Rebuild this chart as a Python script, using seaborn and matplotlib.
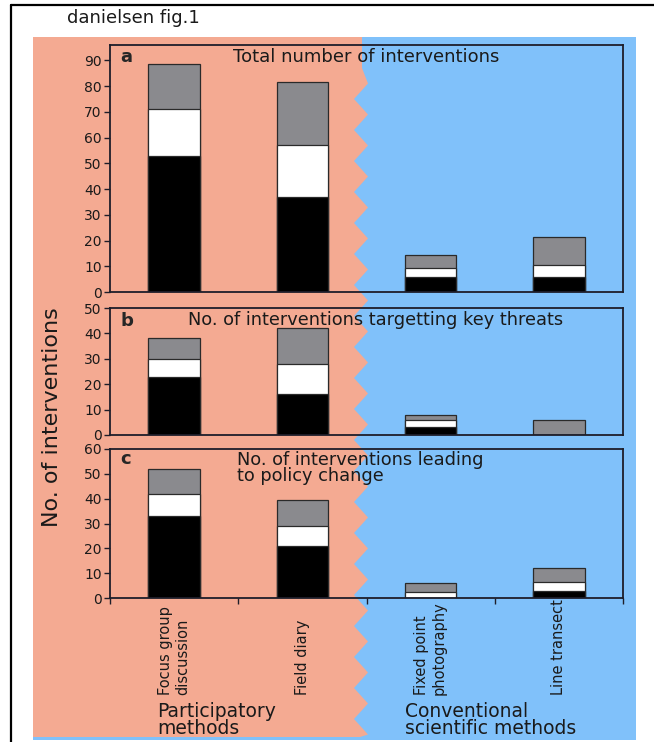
import matplotlib
matplotlib.use("Agg")
import matplotlib.pyplot as plt
import matplotlib.transforms as mtransforms
from matplotlib.patches import Rectangle, Polygon
from matplotlib.lines import Line2D
import seaborn as sns
import pandas as pd
import numpy as np

# ---------------- data ----------------
methods = ["Focus group\ndiscussion", "Field diary", "Fixed point\nphotography", "Line transect"]
groups = ["Participatory\nmethods", "Conventional\nscientific methods"]

panel_letters = ["a", "b", "c"]
panel_titles = ["Total number of interventions",
                "No. of interventions targetting key threats",
                "No. of interventions leading\nto policy change"]

# stacked segments (bottom black, middle white, top grey)
a_black = [53, 37, 6, 6]
a_white = [18, 20, 3.5, 4.5]
a_grey = [17.5, 24.5, 5, 11]

b_black = [23, 16, 3, 0]
b_white = [7, 12, 3, 0]
b_grey = [8, 14, 2, 6]

c_black = [33, 21, 0, 3]
c_white = [9, 8, 2.5, 3.5]
c_grey = [10, 10.5, 3.5, 5.5]

y_limits = [96, 50, 60]
y_ticks = [list(range(0, 91, 10)), list(range(0, 51, 10)), list(range(0, 61, 10))]

# ---------------- style ----------------
sns.set_theme(style="white")
plt.rcParams["font.family"] = ["DejaVu Sans"]

W, H = 654, 742
fig = plt.figure(figsize=(W / 100, H / 100), dpi=100)

def fx(x):
    return x / W

def fy(y):
    return 1 - y / H

SALMON = "#F4AA92"
BLUE = "#80C1FA"
GREY = "#8A8A8E"
EDGE = "#2a2a2a"
SPINE = "#1e1e2a"
TXT = "#1a1a1a"

# background regions
fig.patches.append(Rectangle((fx(33), fy(740)), fx(636) - fx(33), fy(37) - fy(740),
                             transform=fig.transFigure, facecolor=BLUE, edgecolor="none", zorder=-2))
pts = [(33, 37), (362, 37), (362, 68)]
y = 68
left = True
while y < 722:
    y += 15.5
    pts.append((368 if left else 354, y))
    left = not left
pts += [(360, 737), (33, 737)]
fig.patches.append(Polygon([(fx(px), fy(py)) for px, py in pts], closed=True,
                           transform=fig.transFigure, facecolor=SALMON, edgecolor="none", zorder=-1))

# outer frame lines
fig.add_artist(Line2D([fx(11), fx(11)], [fy(5), fy(742)], color="black", lw=1.6, transform=fig.transFigure))
fig.add_artist(Line2D([fx(11), fx(654)], [fy(5), fy(5)], color="black", lw=1.6, transform=fig.transFigure))

fig.text(fx(67), fy(18), "danielsen fig.1", fontsize=13, ha="left", va="center", color=TXT)

# axes positions (pixels: left, right, top, bottom)
boxes = [(110, 623, 45, 292), (110, 623, 308, 435), (110, 623, 449, 598)]
data = [(a_black, a_white, a_grey), (b_black, b_white, b_grey), (c_black, c_white, c_grey)]

axes = []
for i, ((l, r, t, b), (blk, wht, gry)) in enumerate(zip(boxes, data)):
    ax = fig.add_axes([fx(l), fy(b), fx(r) - fx(l), fy(t) - fy(b)])
    ax.set_facecolor("none")
    df = pd.DataFrame({"method": methods,
                       "black": blk,
                       "white": np.add(blk, wht),
                       "grey": np.add(np.add(blk, wht), gry)})
    for col, colr in [("grey", GREY), ("white", "white"), ("black", "black")]:
        sns.barplot(data=df, x="method", y=col, order=methods, color=colr, saturation=1,
                    width=0.4, edgecolor=EDGE, linewidth=0.9, ax=ax)
    ax.set_xlim(-0.5, 3.5)
    ax.set_ylim(0, y_limits[i])
    ax.set_yticks(y_ticks[i])
    ax.set_xlabel("")
    ax.set_ylabel("")
    for s in ax.spines.values():
        s.set_color(SPINE)
        s.set_linewidth(1.3)
    ax.tick_params(axis="y", direction="out", length=4, width=1, color=SPINE,
                   labelsize=10, pad=2, labelcolor=TXT, left=True)
    ax.set_xticks(range(4))
    ax.set_xticklabels([])
    ax.tick_params(axis="x", length=0)
    axes.append(ax)

ax_a, ax_b, ax_c = axes
ax_c.set_xticks(np.arange(-0.5, 4, 1), minor=True)
ax_c.tick_params(axis="x", which="minor", direction="out", length=4, width=1, color=SPINE, bottom=True)

# panel letters and titles
ax_a.text(0.02, 0.95, panel_letters[0], transform=ax_a.transAxes, fontsize=13, fontweight="bold", va="center", ha="left")
ax_a.text(0.5, 0.95, panel_titles[0], transform=ax_a.transAxes, fontsize=13, va="center", ha="center", color=TXT)
ax_b.text(0.02, 0.90, panel_letters[1], transform=ax_b.transAxes, fontsize=13, fontweight="bold", va="center", ha="left")
ax_b.text(0.518, 0.905, panel_titles[1], transform=ax_b.transAxes, fontsize=12.8, va="center", ha="center", color=TXT)
ax_c.text(0.02, 0.93, panel_letters[2], transform=ax_c.transAxes, fontsize=13, fontweight="bold", va="center", ha="left")
ax_c.text(0.247, 0.985, panel_titles[2], transform=ax_c.transAxes, fontsize=12.8, va="top", ha="left",
          linespacing=0.85, color=TXT)

# rotated category labels
trans = mtransforms.blended_transform_factory(ax_c.transData, ax_c.transAxes)
y_lab = (598 - 695) / (598 - 449)
for i, m in enumerate(methods):
    ax_c.text(i, y_lab, m, transform=trans, rotation=90, ha="center", va="bottom",
              multialignment="left", fontsize=10.5, linespacing=1.25, color=TXT)

# group labels
fig.text(fx(157), fy(702), groups[0], fontsize=13.5, ha="left", va="top", linespacing=0.85, color=TXT)
fig.text(fx(405), fy(702), groups[1], fontsize=13.5, ha="left", va="top", linespacing=0.85, color=TXT)

# y label
fig.text(fx(52), fy(417), "No. of interventions", rotation=90, fontsize=16, ha="center", va="center",
         color=TXT)

fig.savefig("out.png", dpi=100)
